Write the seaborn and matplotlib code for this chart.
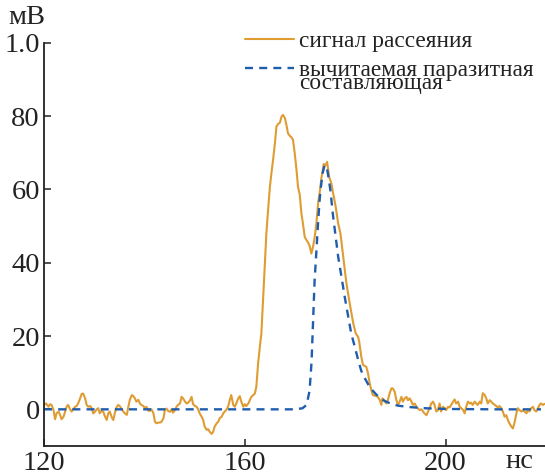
import numpy as np
import matplotlib
matplotlib.use("Agg")
import matplotlib.pyplot as plt
import seaborn as sns

# ---- data ----
t_signal = [
    120.0, 120.4, 120.9, 121.2, 121.5, 121.9, 122.2, 122.5, 122.9, 123.2, 123.5, 123.9, 124.2, 124.5,
    124.8, 125.2, 125.5, 125.8, 126.2, 126.5, 126.8, 127.2, 127.5, 127.8, 128.2, 128.5, 128.8, 129.2,
    129.5, 129.8, 130.2, 130.5, 130.8, 131.1, 131.5, 131.8, 132.1, 132.5, 132.8, 133.1, 133.5, 133.8,
    134.1, 134.5, 134.8, 135.1, 135.5, 135.8, 136.1, 136.5, 136.8, 137.1, 137.5, 137.8, 138.1, 138.4,
    138.8, 139.1, 139.4, 139.8, 140.1, 140.4, 140.8, 141.1, 141.4, 141.8, 142.1, 142.4, 142.8, 143.1,
    143.4, 143.8, 144.1, 144.4, 144.7, 145.1, 145.4, 145.7, 146.1, 146.4, 146.7, 147.1, 147.4, 147.7,
    148.1, 148.4, 148.7, 149.1, 149.4, 149.7, 150.1, 150.4, 150.7, 151.0, 151.4, 151.7, 152.0, 152.4,
    152.7, 153.0, 153.4, 153.7, 154.0, 154.4, 154.7, 155.0, 155.4, 155.7, 156.0, 156.4, 156.7, 157.0,
    157.3, 157.7, 158.0, 158.3, 158.7, 159.0, 159.3, 159.7, 160.0, 160.3, 160.7, 161.0, 161.3, 161.7,
    162.0, 162.3, 162.65, 163.0, 163.3, 163.64, 164.0, 164.3, 164.64, 165.0, 165.3, 165.63, 166.0,
    166.3, 166.6, 167.0, 167.3, 167.6, 168.0, 168.3, 168.6, 168.95, 169.3, 169.6, 169.95, 170.3,
    170.6, 170.95, 171.27, 171.6, 171.94, 172.27, 172.6, 172.93, 173.26, 173.6, 173.94, 174.26,
    174.6, 174.9, 175.3, 175.73, 176.1, 176.4, 176.8, 177.25, 177.6, 178.1, 178.6, 179.05, 179.6,
    180.24, 180.9, 181.6, 182.1, 182.56, 182.8, 183.2, 183.55, 184.2, 184.55, 184.88, 185.2, 185.5,
    186.2, 186.5, 186.9, 187.2, 187.4, 187.9, 188.2, 188.5, 188.86, 189.2, 189.5, 189.86, 190.2,
    190.5, 190.85, 191.2, 191.5, 191.85, 192.2, 192.5, 192.84, 193.2, 193.5, 193.84, 194.2, 194.8,
    195.2, 195.5, 195.8, 196.2, 196.5, 196.8, 197.15, 197.5, 197.8, 198.15, 198.5, 198.8, 199.1,
    199.5, 199.8, 200.1, 200.5, 200.8, 201.1, 201.5, 201.8, 202.1, 202.5, 202.8, 203.1, 203.5,
    203.8, 204.1, 204.45, 204.8, 205.1, 205.4, 205.8, 206.1, 206.4, 206.8, 207.1, 207.4, 207.8,
    208.1, 208.4, 208.8, 209.1, 209.4, 209.8, 210.1, 210.4, 210.75, 211.1, 211.4, 211.75, 212.1,
    212.4, 212.7, 213.1, 213.4, 213.7, 214.1, 214.4, 214.7, 215.1, 215.4, 215.7, 216.1, 216.4,
    216.7, 217.05, 217.4, 217.7, 218.05, 218.4, 218.7, 219.0, 219.4, 219.7,
]
v_signal = [
    1.2, 1.6, 0.7, 1.4, 1.2, -0.2, -2.7, -1.1, -0.6, -1.5, -2.7, -2.0, -0.6, 0.7,
    1.2, 0.0, -0.6, 0.0, 0.7, 0.9, 1.6, 3.0, 4.2, 4.3, 3.0, 1.2, 0.7, 0.9,
    0.3, -1.1, -0.6, 0.0, 0.3, -1.1, -0.4, -0.6, -1.8, -2.9, -1.1, -0.6, -2.2, -2.9,
    -1.1, 0.7, 1.2, 0.9, 0.0, -0.6, -1.1, -1.5, 0.7, 2.6, 3.9, 3.6, 3.0, 2.1,
    2.6, 1.6, 1.2, 0.9, 0.3, 0.7, -0.4, -0.4, 0.0, -1.1, -3.4, -3.8, -3.6, -3.6,
    -3.4, -2.4, 0.0, 0.2, -0.4, -0.7, 0.0, -0.9, -0.2, 0.7, 1.2, 1.6, 3.4, 3.0,
    2.1, 1.6, 1.8, 2.5, 3.4, 1.4, 0.9, 0.7, 0.0, -1.1, -2.0, -2.9, -4.7, -5.6,
    -5.4, -6.1, -6.7, -6.1, -4.7, -3.8, -3.4, -2.4, -2.0, -1.1, -0.6, 0.0, 0.9, 2.5,
    3.9, 1.2, 0.7, 1.6, 3.0, 3.6, 2.1, 0.7, 1.4, 0.9, 1.6, 2.5, 3.4, 3.9,
    4.3, 6.2, 12.5, 17.1, 20.7, 29.8, 38.9, 48.0, 54.4, 60.7, 64.4, 68.0, 72.6,
    77.1, 77.8, 78.2, 79.8, 80.3, 79.4, 77.5, 75.3, 74.6, 74.2, 73.5, 69.8, 65.3,
    60.7, 58.5, 53.5, 50.5, 47.0, 46.2, 45.5, 44.5, 42.5, 44.4, 47.1, 50.7,
    56.2, 59.0, 63.4, 66.9, 66.6, 67.5, 63.4, 61.6, 58.9, 55.3, 50.7, 48.0, 41.6,
    34.4, 28.9, 23.5, 20.7, 19.8, 18.4, 14.4, 12.1, 11.6, 9.8, 7.1, 5.3, 3.9,
    3.6, 3.4, 2.5, 1.2, 3.0, 2.1, 1.6, 2.5, 4.4, 5.7, 5.7, 4.8, 2.5,
    1.2, 2.1, 3.4, 2.1, 3.0, 3.4, 2.5, 3.0, 2.1, 1.2, 1.6, 0.7, -0.2,
    0.0, -0.6, -1.1, -1.6, -0.6, 0.3, 1.6, 2.1, 1.2, -0.6, -0.2, 1.6, -0.6,
    0.7, 0.3, -0.2, 0.7, 0.5, 1.2, 2.1, 2.7, 1.6, 2.1, 0.7, 0.3, -0.2,
    -1.1, 0.7, 2.1, 1.6, 1.8, 1.2, 2.1, 1.6, 1.2, 2.1, 1.6, 4.4, 3.9,
    3.0, 1.6, 2.5, 2.1, 1.6, 1.2, 0.9, 0.5, 0.9, 0.3, -0.6, -2.0, -1.6,
    -2.9, -3.8, -4.7, -5.2, -3.8, -1.1, 0.3, -0.2, -0.6, -0.2, -0.6, -1.1, -0.2,
    -0.6, 0.3, 0.7, -0.2, -0.6, 0.3, 1.2, 1.6, 1.2, 1.5,
]

t_parasitic = [
    120.0, 130.0, 140.0, 150.0, 160.0, 170.0, 171.5, 172.3, 172.9, 173.3, 173.6, 173.9, 174.3,
    174.6, 174.9, 175.1, 175.5, 175.9, 176.3, 176.6, 177.05, 177.6, 178.1, 178.6, 179.25, 179.9,
    180.6, 181.2, 181.9, 182.6, 183.2, 183.9, 184.9, 186.0, 187.0, 188.0, 189.0, 190.5, 193.0,
    196.0, 200.0, 210.0, 219.0,
]
v_parasitic = [
    0.0, 0.0, 0.0, 0.0, 0.0, 0.0, 0.3, 1.2, 5.0, 13.0, 24.0, 35.0, 44.0,
    51.0, 57.0, 60.0, 64.4, 66.6, 66.2, 63.9, 59.8, 52.5, 47.1, 41.6, 36.2, 30.7,
    25.3, 20.7, 17.1, 13.4, 10.5, 8.5, 6.0, 4.3, 3.0, 2.2, 1.6, 1.0, 0.6,
    0.3, 0.1, 0.0, 0.0,
]

x_ticks = [120, 160, 200]
y_ticks = [0, 20, 40, 60, 80, 100]
y_ticklabels = ["0", "20", "40", "60", "80", "1.0"]
label_signal = "сигнал рассеяния"
label_parasitic_1 = "вычитаемая паразитная"
label_parasitic_2 = "составляющая"
unit_y = "мВ"
unit_x = "нс"

# ---- style ----
sns.set_style("ticks")
plt.rcParams["font.family"] = ["Liberation Serif", "DejaVu Serif"]

ORANGE = "#DE9C33"
BLUE = "#1F5DAE"
INK = "#222222"
TICK_FS = 20.5
LEG_FS = 16.8

fig = plt.figure(figsize=(5.45, 4.75), dpi=100)
ax = fig.add_axes([44 / 545, 29 / 475, 502 / 545, 403.3 / 475])

sns.lineplot(x=t_signal, y=v_signal, ax=ax, color=ORANGE, linewidth=1.5,
             sort=False, estimator=None, label=label_signal)
sns.lineplot(x=t_parasitic, y=v_parasitic, ax=ax, color=BLUE, linewidth=1.7,
             sort=False, estimator=None, label=label_parasitic_1)
lines = ax.get_lines()
lines[1].set_dashes((3.4, 2.6))

ax.set_xlim(120, 220)
ax.set_ylim(-10, 100)
ax.set_xticks(x_ticks)
ax.set_xticklabels([str(v) for v in x_ticks])
ax.set_yticks(y_ticks)
ax.set_yticklabels(y_ticklabels)
ax.tick_params(axis="both", direction="in", length=5, width=1.1, colors=INK,
               labelsize=TICK_FS, labelcolor=INK)
ax.tick_params(axis="x", pad=3.5)
ax.tick_params(axis="y", pad=3)
sns.despine(ax=ax)
for s in ("left", "bottom"):
    ax.spines[s].set_linewidth(1.3)
    ax.spines[s].set_color(INK)
ax.set_xlabel("")
ax.set_ylabel("")

leg = ax.legend(loc="upper left", bbox_to_anchor=(245 / 545, 1 - 31 / 475),
                bbox_transform=fig.transFigure, frameon=False, fontsize=LEG_FS,
                handlelength=2.1, handletextpad=0.22, labelspacing=0.3,
                borderpad=0, borderaxespad=0)
for txt in leg.get_texts():
    txt.set_color(INK)

fig.canvas.draw()
bb = leg.get_texts()[1].get_window_extent()
x0_fig = bb.x0 / fig.bbox.width
y_fig = (bb.y0 - 13) / fig.bbox.height
fig.text(x0_fig, y_fig, label_parasitic_2, fontsize=LEG_FS, color=INK,
         ha="left", va="bottom")

fig.text(8 / 545, 1 - 18 / 475, unit_y, fontsize=TICK_FS, color=INK, ha="left", va="center")
fig.text(505 / 545, 1 - 461 / 475, unit_x, fontsize=TICK_FS, color=INK, ha="left", va="center")

fig.savefig("out.png", dpi=100)
